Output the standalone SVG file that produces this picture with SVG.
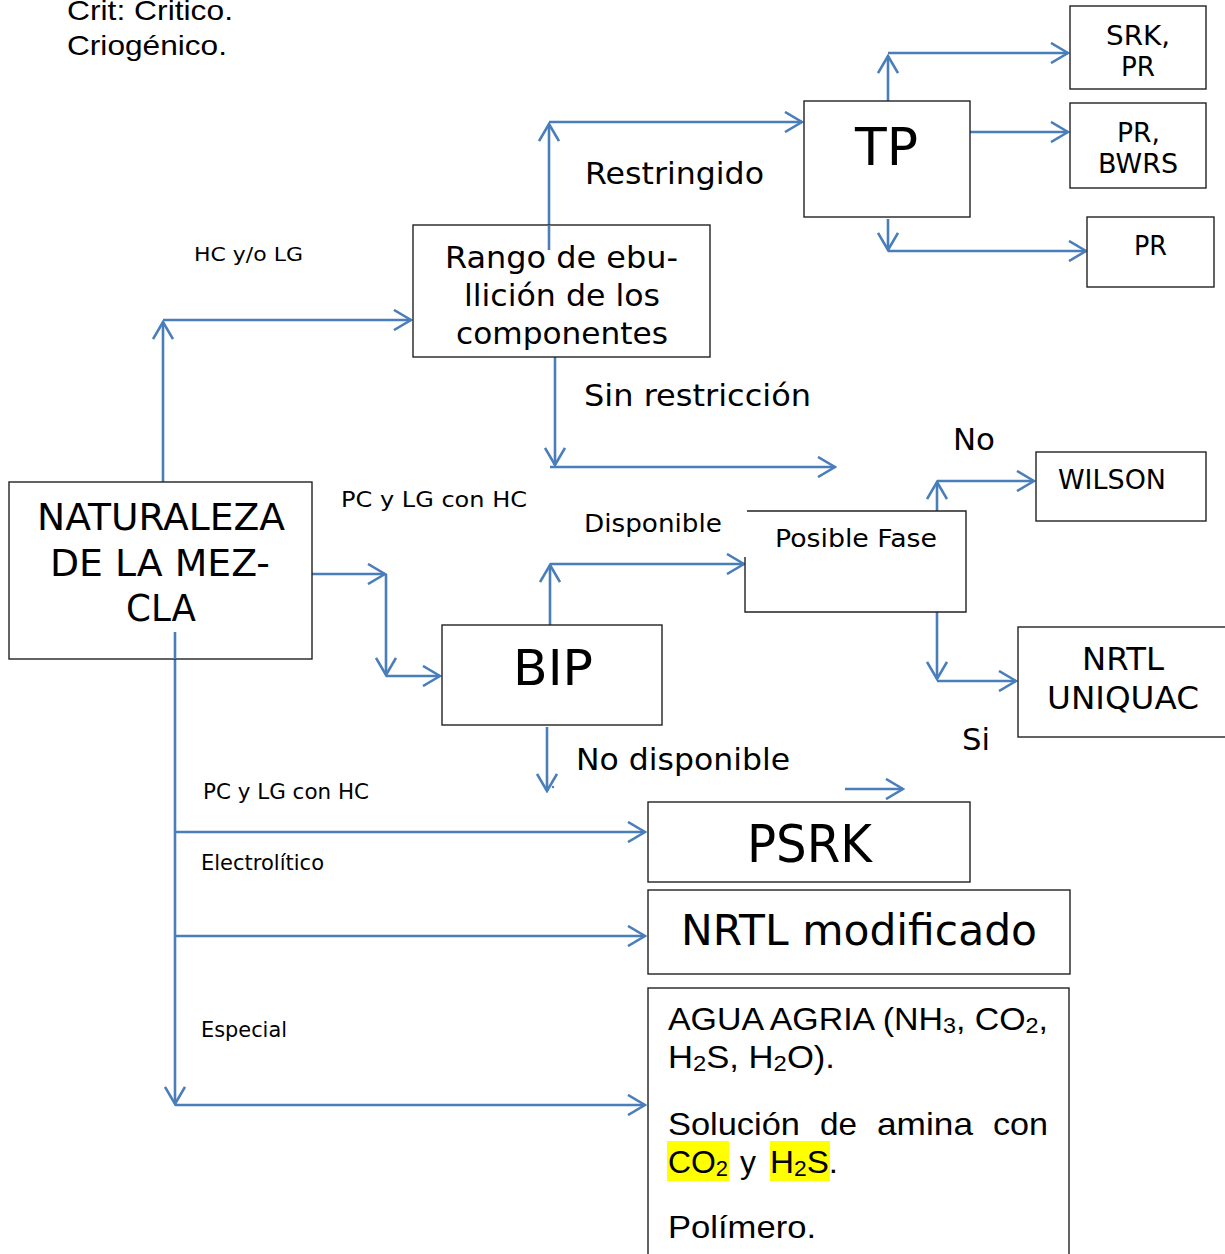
<svg xmlns="http://www.w3.org/2000/svg" width="1225" height="1254" viewBox="0 0 1225 1254">
<style>
.box{fill:#fff;stroke:#222;stroke-width:1.4}
.ln{fill:none;stroke:#4a7ebb;stroke-width:2.6}
.v{font-family:"DejaVu Sans","Verdana",sans-serif;fill:#000}
.a{font-family:"Liberation Sans","Arial",sans-serif;fill:#000}
</style>
<defs>
<marker id="ah" viewBox="0 0 20 22" refX="18" refY="11" markerWidth="20" markerHeight="22" markerUnits="userSpaceOnUse" orient="auto">
<path d="M1,1 L18,11 L1,21" fill="none" stroke="#4a7ebb" stroke-width="2.6"/>
</marker>
</defs>
<rect width="1225" height="1254" fill="#fff"/>

<text class="a" x="67" y="20" font-size="28" textLength="166" lengthAdjust="spacingAndGlyphs">Crit: Critico.</text>
<text class="a" x="67" y="55" font-size="28" textLength="160" lengthAdjust="spacingAndGlyphs">Criogénico.</text>

<g id="connectors">
<path class="ln" d="M163,482 V322" marker-end="url(#ah)"/>
<path class="ln" d="M163,320 H411" marker-end="url(#ah)"/>
<path class="ln" d="M549,250 V124" marker-end="url(#ah)"/>
<path class="ln" d="M549,122 H802" marker-end="url(#ah)"/>
<path class="ln" d="M888,101 V56" marker-end="url(#ah)"/>
<path class="ln" d="M888,53 H1068" marker-end="url(#ah)"/>
<path class="ln" d="M970,132 H1068" marker-end="url(#ah)"/>
<path class="ln" d="M888,219 V250" marker-end="url(#ah)"/>
<path class="ln" d="M888,251 H1086" marker-end="url(#ah)"/>
<path class="ln" d="M555,357 V465" marker-end="url(#ah)"/>
<path class="ln" d="M550,467 H835" marker-end="url(#ah)"/>
<path class="ln" d="M312,574 H385" marker-end="url(#ah)"/>
<path class="ln" d="M386,574 V675" marker-end="url(#ah)"/>
<path class="ln" d="M386,676 H440" marker-end="url(#ah)"/>
<path class="ln" d="M550,625 V565" marker-end="url(#ah)"/>
<path class="ln" d="M550,564 H744" marker-end="url(#ah)"/>
<path class="ln" d="M937,511 V482" marker-end="url(#ah)"/>
<path class="ln" d="M937,481 H1034" marker-end="url(#ah)"/>
<path class="ln" d="M937,612 V679" marker-end="url(#ah)"/>
<path class="ln" d="M937,681 H1016" marker-end="url(#ah)"/>
<path class="ln" d="M547,727 V791" marker-end="url(#ah)"/>
<circle cx="553" cy="787" r="1.2" fill="#4a7ebb"/>
<path class="ln" d="M845,789 H903" marker-end="url(#ah)"/>
<path class="ln" d="M175,632 V1104" marker-end="url(#ah)"/>
<path class="ln" d="M175,832 H645" marker-end="url(#ah)"/>
<path class="ln" d="M175,936 H645" marker-end="url(#ah)"/>
<path class="ln" d="M175,1105 H645" marker-end="url(#ah)"/>
</g>

<g id="labels">
<text class="v" x="194" y="261" font-size="20" textLength="109" lengthAdjust="spacingAndGlyphs">HC y/o LG</text>
<text class="v" x="585" y="184" font-size="30" textLength="179" lengthAdjust="spacingAndGlyphs">Restringido</text>
<text class="v" x="584" y="406" font-size="30" textLength="227" lengthAdjust="spacingAndGlyphs">Sin restricción</text>
<text class="v" x="953" y="450" font-size="30" textLength="42" lengthAdjust="spacingAndGlyphs">No</text>
<text class="v" x="341" y="507" font-size="22" textLength="186" lengthAdjust="spacingAndGlyphs">PC y LG con HC</text>
<text class="v" x="962" y="750" font-size="30" textLength="28" lengthAdjust="spacingAndGlyphs">Si</text>
<text class="v" x="576" y="770" font-size="31" textLength="214" lengthAdjust="spacingAndGlyphs">No disponible</text>
<text class="v" x="203" y="799" font-size="21" textLength="166" lengthAdjust="spacingAndGlyphs">PC y LG con HC</text>
<text class="v" x="201" y="870" font-size="21" textLength="123" lengthAdjust="spacingAndGlyphs">Electrolítico</text>
<text class="v" x="201" y="1037" font-size="21" textLength="86" lengthAdjust="spacingAndGlyphs">Especial</text>
</g>

<g id="tp">
<rect class="box" x="804" y="101" width="166" height="116"/>
<text class="v" x="855" y="165" font-size="52" textLength="63" lengthAdjust="spacingAndGlyphs">TP</text>
</g>
<g id="srk">
<rect class="box" x="1070" y="6" width="136" height="83"/>
<text class="v" x="1106" y="45" font-size="26" textLength="64" lengthAdjust="spacingAndGlyphs">SRK,</text>
<text class="v" x="1121" y="76" font-size="26" textLength="34" lengthAdjust="spacingAndGlyphs">PR</text>
</g>
<g id="bwrs">
<rect class="box" x="1070" y="103" width="136" height="85"/>
<text class="v" x="1117" y="142" font-size="26" textLength="43" lengthAdjust="spacingAndGlyphs">PR,</text>
<text class="v" x="1098" y="173" font-size="26" textLength="80" lengthAdjust="spacingAndGlyphs">BWRS</text>
</g>
<g id="pr">
<rect class="box" x="1087" y="217" width="127" height="70"/>
<text class="v" x="1134" y="255" font-size="26" textLength="33" lengthAdjust="spacingAndGlyphs">PR</text>
</g>
<g id="rango">
<rect class="box" x="413" y="225" width="297" height="132"/>
<path class="ln" d="M549,225 V250"/>
<text class="v" x="445" y="268" font-size="31" textLength="233" lengthAdjust="spacingAndGlyphs">Rango de ebu-</text>
<text class="v" x="464" y="306" font-size="31" textLength="196" lengthAdjust="spacingAndGlyphs">llición de los</text>
<text class="v" x="456" y="344" font-size="31" textLength="212" lengthAdjust="spacingAndGlyphs">componentes</text>
</g>
<g id="naturaleza">
<rect class="box" x="9" y="482" width="303" height="177"/>
<text class="v" x="37" y="530" font-size="38" textLength="248" lengthAdjust="spacingAndGlyphs">NATURALEZA</text>
<text class="v" x="50" y="576" font-size="38" textLength="220" lengthAdjust="spacingAndGlyphs">DE LA MEZ-</text>
<text class="v" x="126" y="621" font-size="38" textLength="70" lengthAdjust="spacingAndGlyphs">CLA</text>
<path class="ln" d="M175,632 V659"/>
</g>
<g id="bip">
<rect class="box" x="442" y="625" width="220" height="100"/>
<text class="v" x="513" y="685" font-size="49" textLength="80" lengthAdjust="spacingAndGlyphs">BIP</text>
</g>
<g id="posible">
<path d="M747,511 H966 V612 H745 V557" fill="#fff" stroke="#222" stroke-width="1.4"/>
<text class="v" x="775" y="547" font-size="25" textLength="162" lengthAdjust="spacingAndGlyphs">Posible Fase</text>
</g>
<text class="v" x="584" y="532" font-size="24" textLength="138" lengthAdjust="spacingAndGlyphs">Disponible</text>
<g id="wilson">
<rect class="box" x="1036" y="452" width="170" height="69"/>
<text class="v" x="1058" y="489" font-size="26" textLength="108" lengthAdjust="spacingAndGlyphs">WILSON</text>
</g>
<g id="nrtl">
<rect class="box" x="1018" y="627" width="210" height="110"/>
<text class="v" x="1082" y="670" font-size="32" textLength="82" lengthAdjust="spacingAndGlyphs">NRTL</text>
<text class="v" x="1047" y="709" font-size="32" textLength="152" lengthAdjust="spacingAndGlyphs">UNIQUAC</text>
</g>
<g id="psrk">
<rect class="box" x="648" y="802" width="322" height="80"/>
<text class="v" x="747" y="862" font-size="52" textLength="125" lengthAdjust="spacingAndGlyphs">PSRK</text>
</g>
<g id="nrtlmod">
<rect class="box" x="648" y="890" width="422" height="84"/>
<text class="v" x="681" y="945" font-size="42" textLength="356" lengthAdjust="spacingAndGlyphs">NRTL modificado</text>
</g>
<g id="especial">
<rect class="box" x="648" y="988" width="421" height="280"/>
<rect x="667" y="1141" width="62" height="40" fill="#ffff00"/>
<rect x="770" y="1141" width="60" height="40" fill="#ffff00"/>
<text class="a" x="668" y="1030" font-size="32" textLength="380" lengthAdjust="spacingAndGlyphs">AGUA AGRIA (NH<tspan font-size="22" dy="3">3</tspan><tspan dy="-3">, CO</tspan><tspan font-size="22" dy="3">2</tspan><tspan dy="-3">,</tspan></text>
<text class="a" x="668" y="1068" font-size="32" textLength="167" lengthAdjust="spacingAndGlyphs">H<tspan font-size="22" dy="3">2</tspan><tspan dy="-3">S, H</tspan><tspan font-size="22" dy="3">2</tspan><tspan dy="-3">O).</tspan></text>
<text class="a" x="668" y="1135" font-size="32" textLength="132" lengthAdjust="spacingAndGlyphs">Solución</text>
<text class="a" x="820" y="1135" font-size="32" textLength="37" lengthAdjust="spacingAndGlyphs">de</text>
<text class="a" x="877" y="1135" font-size="32" textLength="96" lengthAdjust="spacingAndGlyphs">amina</text>
<text class="a" x="993" y="1135" font-size="32" textLength="55" lengthAdjust="spacingAndGlyphs">con</text>
<text class="a" x="668" y="1173" font-size="32" textLength="60" lengthAdjust="spacingAndGlyphs">CO<tspan font-size="22" dy="3">2</tspan></text>
<text class="a" x="740" y="1173" font-size="32">y</text>
<text class="a" x="770" y="1173" font-size="32" textLength="68" lengthAdjust="spacingAndGlyphs">H<tspan font-size="22" dy="3">2</tspan><tspan dy="-3">S.</tspan></text>
<text class="a" x="668" y="1238" font-size="32" textLength="148" lengthAdjust="spacingAndGlyphs">Polímero.</text>
</g>
</svg>
